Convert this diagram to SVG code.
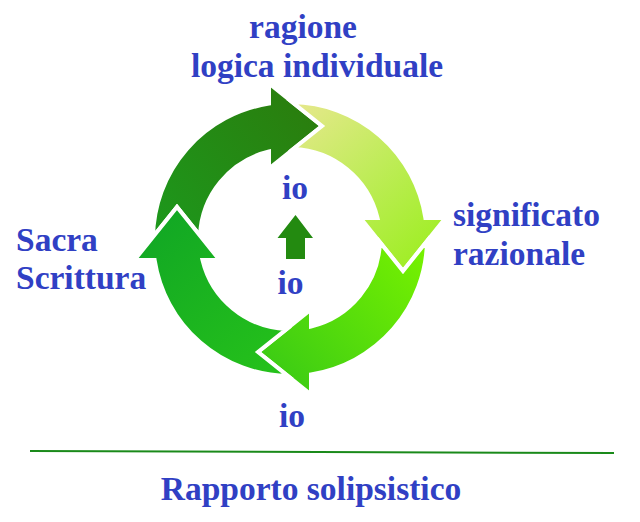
<svg xmlns="http://www.w3.org/2000/svg" width="640" height="522" viewBox="0 0 640 522">
  <defs>
    <style>
      .lbl { font-family: "Liberation Serif", "Times New Roman", serif; font-weight: bold; font-size: 33.5px; fill: #3040c4; }
      .arrow { stroke: #ffffff; stroke-width: 4; stroke-linejoin: miter; }
    </style>
    <path id="arrowShape" d="M153.02,236.91 A137,137 0 0 1 269,103.62 L269,83.5 L322,126 L269,168.5 L269,151.48 A90,90 0 0 0 200.06,235.75 L177,207 Z"/>
    <linearGradient id="g1" gradientUnits="userSpaceOnUse" x1="160" y1="240" x2="310" y2="110">
      <stop offset="0" stop-color="#1d981c"/>
      <stop offset="1" stop-color="#2a7e0e"/>
    </linearGradient>
    <linearGradient id="g2" gradientUnits="userSpaceOnUse" x1="160" y1="240" x2="310" y2="110">
      <stop offset="0" stop-color="#e6e88c"/>
      <stop offset="0.5" stop-color="#c0ec5a"/>
      <stop offset="1" stop-color="#a0ee26"/>
    </linearGradient>
    <linearGradient id="g3" gradientUnits="userSpaceOnUse" x1="160" y1="240" x2="310" y2="110">
      <stop offset="0" stop-color="#78f200"/>
      <stop offset="1" stop-color="#3ccc14"/>
    </linearGradient>
    <linearGradient id="g4" gradientUnits="userSpaceOnUse" x1="160" y1="240" x2="310" y2="110">
      <stop offset="0" stop-color="#26c21a"/>
      <stop offset="1" stop-color="#12a824"/>
    </linearGradient>
  </defs>
  <rect width="640" height="522" fill="#ffffff"/>

  <g id="cycle">
    <g id="arrow-ragione"><use href="#arrowShape" class="arrow" fill="url(#g1)"/></g>
    <g id="arrow-significato"><use href="#arrowShape" class="arrow" fill="url(#g2)" transform="rotate(90 290 239)"/></g>
    <g id="arrow-io"><use href="#arrowShape" class="arrow" fill="url(#g3)" transform="rotate(180 290 239)"/></g>
    <g id="arrow-sacra"><use href="#arrowShape" class="arrow" fill="url(#g4)" transform="rotate(270 290 239)"/></g>
  </g>

  <g id="connectors">
    <polygon id="center-arrow" points="295.5,215 313,238 305,238 305,259 286,259 286,238 277.5,238" fill="#238a10"/>
    <line x1="30" y1="451" x2="614" y2="453" stroke="#1a8a1a" stroke-width="2"/>
  </g>

  <g id="label-ragione">
    <text class="lbl" x="303" y="38" text-anchor="middle">ragione</text>
    <text class="lbl" x="317" y="77" text-anchor="middle">logica individuale</text>
  </g>
  <g id="label-significato">
    <text class="lbl" x="453" y="226">significato</text>
    <text class="lbl" x="453" y="265">razionale</text>
  </g>
  <g id="label-sacra">
    <text class="lbl" x="16" y="251">Sacra</text>
    <text class="lbl" x="16" y="289">Scrittura</text>
  </g>
  <g id="label-io-top"><text class="lbl" x="295" y="199" text-anchor="middle">io</text></g>
  <g id="label-io-mid"><text class="lbl" x="290.5" y="294" text-anchor="middle">io</text></g>
  <g id="label-io-bottom"><text class="lbl" x="292" y="427" text-anchor="middle">io</text></g>
  <g id="label-rapporto"><text class="lbl" x="311" y="500" text-anchor="middle">Rapporto solipsistico</text></g>
</svg>
